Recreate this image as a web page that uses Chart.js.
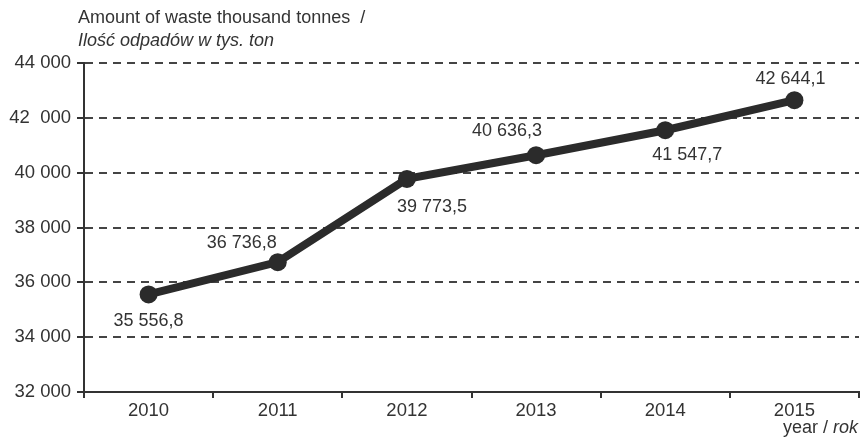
<!DOCTYPE html>
<html>
<head>
<meta charset="utf-8">
<script src="https://cdn.jsdelivr.net/npm/chart.js@4"></script>
<style>
  html, body { margin: 0; padding: 0; background: #fff; }
  #wrap { width: 868px; height: 439px; }
</style>
</head>
<body>
<div id="wrap"><canvas id="grafico"></canvas></div>
<script>
const years = ["2010", "2011", "2012", "2013", "2014", "2015"];
const waste = [35556.8, 36736.8, 39773.5, 40636.3, 41547.7, 42644.1];
const yTicks = {32000: "32 000", 34000: "34 000", 36000: "36 000", 38000: "38 000", 40000: "40 000", 42000: "42  000", 44000: "44 000"};
// where each value label sits relative to its point
const labelOffsets = [[0, 27], [-36, -19], [25, 28], [-29, -24], [22, 25], [-4, -21]];

const ink = "#2b2b2b";
const fontName = "'Liberation Sans', Arial, sans-serif";

function fmt(v) {
    const parts = v.toFixed(1).split(".");
    return parts[0].replace(/\B(?=(\d{3})+(?!\d))/g, " ") + "," + parts[1];
}

const textos = {
    id: "textos",
    afterDatasetsDraw(chart) {
        const c = chart.ctx;
        const meta = chart.getDatasetMeta(0);
        c.save();
        c.fillStyle = "#333";
        c.font = "18px " + fontName;
        c.textAlign = "center";
        c.textBaseline = "middle";
        meta.data.forEach(function (p, i) {
            c.fillText(fmt(waste[i]), p.x + labelOffsets[i][0], p.y + labelOffsets[i][1]);
        });
        c.textAlign = "left";
        c.font = "18px " + fontName;
        c.fillText("Amount of waste thousand tonnes  /", 78, 18);
        c.font = "italic 18px " + fontName;
        c.fillText("Ilość odpadów w tys. ton", 78, 41);
        c.textAlign = "right";
        c.fillText("rok", 858, 428);
        const w = c.measureText("rok").width;
        c.font = "18px " + fontName;
        c.fillText("year / ", 858 - w, 428);
        c.restore();
    }
};

new Chart(document.getElementById("grafico").getContext("2d"), {
    type: "line",
    data: {
        labels: years,
        datasets: [{
            data: waste,
            borderColor: ink,
            backgroundColor: ink,
            borderWidth: 8,
            pointRadius: 9,
            pointHoverRadius: 9,
            pointBackgroundColor: ink,
            pointBorderWidth: 0,
            tension: 0
        }]
    },
    options: {
        responsive: true,
        maintainAspectRatio: false,
        animation: false,
        layout: { padding: { top: 63, right: 2, left: 0, bottom: 0 } },
        plugins: {
            legend: { display: false },
            tooltip: { enabled: false }
        },
        scales: {
            x: {
                offset: true,
                grid: {
                    offset: true,
                    drawOnChartArea: false,
                    color: "#333",
                    lineWidth: 2,
                    tickLength: 6
                },
                border: { color: "#333", width: 2 },
                ticks: { color: "#333", font: { size: 18.5, family: fontName }, padding: 2 },
                afterFit: function (s) { s.height = 47; }
            },
            y: {
                min: 32000,
                max: 44000,
                grid: {
                    color: "#444",
                    lineWidth: 2,
                    tickLength: 7,
                    tickColor: "#333",
                    tickWidth: 2,
                    tickBorderDash: []
                },
                border: { color: "#333", width: 2, dash: [8, 6] },
                ticks: {
                    stepSize: 2000,
                    color: "#333",
                    font: { size: 18.5, family: fontName },
                    padding: 6,
                    callback: function (v) { return yTicks[v]; }
                },
                afterFit: function (s) { s.width = 84; }
            }
        }
    },
    plugins: [textos]
});
</script>
</body>
</html>
